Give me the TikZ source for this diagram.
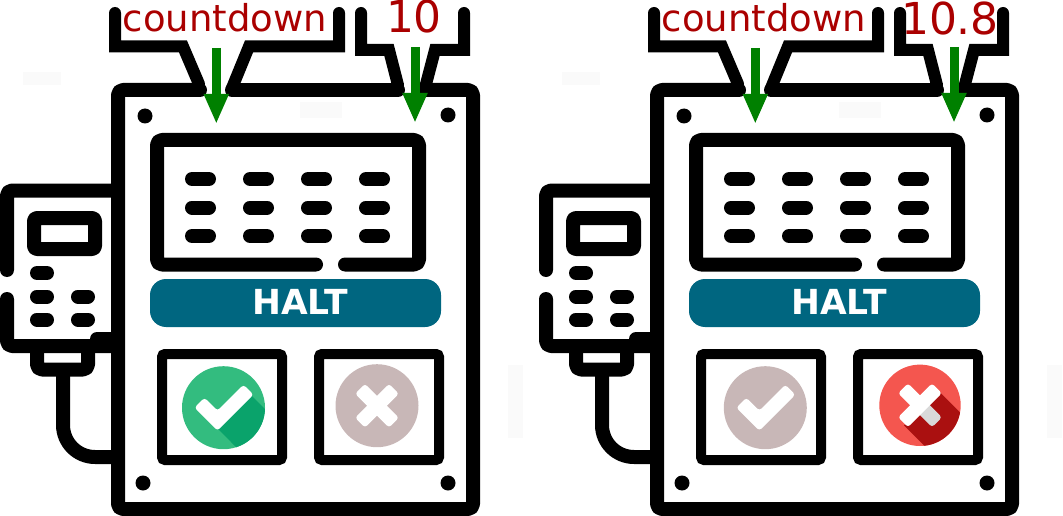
\documentclass[tikz,border=0pt]{standalone}
\usepackage{fontspec}
\setmainfont{DejaVu Sans}
\usetikzlibrary{arrows.meta}

\definecolor{haltblue}{HTML}{006680}
\definecolor{readoutred}{HTML}{AA0000}
\definecolor{idlegrey}{HTML}{C8B7B7}
\definecolor{okgreen}{HTML}{33BC7F}
\definecolor{okshade}{HTML}{0AA36B}
\definecolor{stopred}{HTML}{F4564F}
\definecolor{stopshade}{HTML}{AA1010}

\tikzset{
    outline/.style={draw=black, line width=14pt, line cap=round, line join=round, rounded corners=5pt},
    bracket/.style={draw=black, line width=12pt, line cap=round},
    thinbox/.style={draw=black, line width=10pt, rounded corners=3pt},
    keypill/.style={draw=black, line width=14pt, line cap=round},
    flowarrow/.style={draw={rgb,255:red,0;green,128;blue,0}, line width=9pt,
        -{Triangle[width=23pt,length=30pt]}},
    readout/.style={text=readoutred, anchor=base, inner sep=0pt},
    faint/.style={fill=black!2},
    iconmark/.style={fill=white, rounded corners=3pt}
}

% grey or green tick, #1 centre
\newcommand{\tickicon}[3]{
    \begin{scope}[shift={(#1)}]
        \fill [#2] (0, 0) circle (41.5);
        \ifx\relax#3\relax\else
        \begin{scope}
            \clip (0, 0) circle (41.5);
            \fill [#3] (27, -13) -- (67, 27) -- (34, 61) -- (-6, 20.7) -- cycle;
        \end{scope}
        \fi
        \fill [iconmark] (-6, 23) -- (-29, 0) -- (-19, -10) -- (-6, 3) -- (20, -23) -- (30, -13) -- cycle;
    \end{scope}
}

\newcommand{\crossicon}[2]{
    \begin{scope}[shift={(#1)}]
        \fill [#2] (0, 0) circle (41.5);
        \fill [iconmark, rotate=45] (-24, -7) rectangle (24, 7);
        \fill [iconmark, rotate=-45] (-24, -7) rectangle (24, 7);
    \end{scope}
}

% one whole pump, #1 suffix, #2 x offset, #3 number, #4 text size, #5 baseline
\newcommand{\pumppanel}[5]{
    \begin{scope}[xshift=#2pt]
        \fill [faint] (23, 72) rectangle (61, 85);
        \fill [faint] (300, 102) rectangle (342, 118);
        \fill [faint] (508, 365) rectangle (523, 438);
        % housing, open where the two readouts come in
        \draw [outline] (200, 90) -- (118, 90) -- (118, 509) -- (473, 509) -- (473, 90) -- (425, 90);
        \draw [outline] (232, 90) -- (398, 90);
        \draw [bracket] (115, 13) -- (115, 46.5) -- (183, 46.5) -- (199, 84);
        \draw [bracket] (232, 88) -- (249, 46.5) -- (339, 46.5) -- (339, 13);
        \draw [bracket] (361, 13) -- (361, 50) -- (389, 50) -- (398, 85);
        \draw [bracket] (425, 88) -- (435, 50) -- (464, 50) -- (464, 13);
        % screws
        \fill (145, 116) circle (7.5);
        \fill (448, 115) circle (7.5);
        \fill (143, 483) circle (7.5);
        \fill (448, 483) circle (7.5);
        % screen
        \draw [outline] (316, 264.5) -- (157, 264.5) -- (157, 140) -- (419, 140) -- (419, 264.5) -- (345, 264.5);
        \foreach \keyx in {192, 250, 308, 366}
            \foreach \keyy in {179, 207.5, 236}
                \draw [keypill] (\keyx, \keyy) -- ++(17, 0);
        % handset
        \draw [outline] (111, 190.5) -- (7, 190.5) -- (7, 270);
        \draw [outline] (7, 299) -- (7, 346) -- (111, 346);
        \draw [keypill] (97, 339) -- (111, 339);
        \draw [outline, rounded corners=3pt] (34, 218) rectangle (95, 249);
        \draw [keypill] (37, 273) -- (47, 273);
        \draw [keypill] (37, 296.5) -- (47, 296.5);
        \draw [keypill] (78, 296.5) -- (88, 296.5);
        \draw [keypill] (37, 319.5) -- (47, 319.5);
        \draw [keypill] (78, 319.5) -- (88, 319.5);
        \draw [outline, line cap=butt] (37, 350) -- (37, 369.5) -- (88, 369.5) -- (88, 350);
        \draw [outline, line cap=butt, rounded corners=32pt] (63, 370) -- (63, 457) -- (111, 457);
        % halt bar
        \fill [haltblue, rounded corners=16pt] (150, 279) rectangle (441, 327);
        \node [text=white, inner sep=0pt, anchor=base] (halt#1) at (300, 314)
            {\fontsize{34.5}{34.5}\selectfont\bfseries HALT};
        % buttons
        \draw [thinbox] (162, 354) rectangle (282, 460);
        \draw [thinbox] (319, 354) rectangle (439, 460);
        % readouts
        \node [readout] (count#1) at (225, 32) {\fontsize{37}{37}\selectfont countdown};
        \node [readout] (value#1) at (#5) {\fontsize{#4}{#4}\selectfont #3};
        \coordinate (counttop#1) at (216.3, 48);
        \coordinate (counttip#1) at (216.3, 124);
        \coordinate (valuetop#1) at (415, 47);
        \coordinate (valuetip#1) at (415, 123);
        \draw [flowarrow] (counttop#1) -- (counttip#1);
        \draw [flowarrow] (valuetop#1) -- (valuetip#1);
    \end{scope}
}

\begin{document}
\begin{tikzpicture}[x=1pt, y=-1pt]
        \useasboundingbox (0, 0) rectangle (1063, 516);
        \pumppanel{A}{0}{10}{44}{414, 32.7}
        \pumppanel{B}{539}{10.8}{44}{411, 35}
        \tickicon{223.5, 407.7}{okgreen}{okshade}
        \crossicon{377, 405.7}{idlegrey}
        \tickicon{765.3, 407.7}{idlegrey}{}
        % red one has a shaded lower right
        \begin{scope}[shift={(920, 405.3)}]
            \fill [stopred] (0, 0) circle (40.7);
            \begin{scope}
                \clip (0, 0) circle (40.7);
                \fill [stopshade] (18, -15) -- (60, 27) -- (26, 62) -- (-16, 20) -- cycle;
            \end{scope}
            \fill [iconmark, rotate=-45] (-24, -7) rectangle (0, 7);
            \fill [iconmark, fill=black!15, rotate=-45] (-4, -7) rectangle (24, 7);
            \fill [iconmark, rotate=45] (-24, -7) rectangle (24, 7);
        \end{scope}
    \end{tikzpicture}
\end{document}
